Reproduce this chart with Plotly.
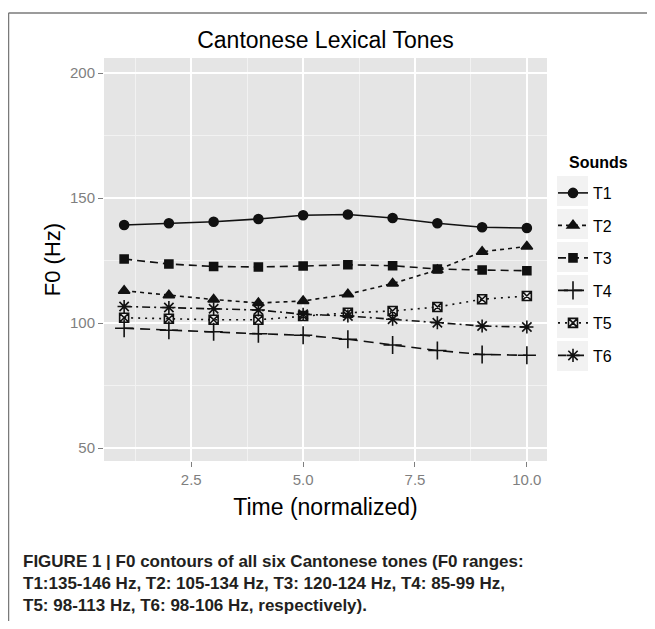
import plotly.graph_objects as go

time = [1, 2, 3, 4, 5, 6, 7, 8, 9, 10]
T1 = [139.2, 139.9, 140.5, 141.6, 143.1, 143.4, 142.0, 139.9, 138.3, 138.0]
T2 = [112.9, 111.1, 109.4, 108.0, 108.8, 111.5, 115.8, 121.2, 128.5, 130.6]
T3 = [125.6, 123.6, 122.6, 122.4, 122.8, 123.3, 122.9, 121.6, 121.2, 120.9]
T4 = [97.9, 97.1, 96.5, 95.7, 95.1, 93.5, 91.2, 89.0, 87.4, 87.1]
T5 = [102.1, 101.7, 101.3, 101.3, 102.8, 104.1, 104.8, 106.4, 109.5, 110.8]
T6 = [106.6, 106.2, 105.7, 105.2, 103.5, 102.8, 101.5, 100.1, 98.8, 98.4]
names = ["T1", "T2", "T3", "T4", "T5", "T6"]
series = [T1, T2, T3, T4, T5, T6]
x_ticks = [2.5, 5.0, 7.5, 10.0]
y_ticks = [50, 100, 150, 200]

styles = {
    "T1": dict(dash="solid", symbol="circle", size=9),
    "T2": dict(dash="4px,4px", symbol="triangle-up", size=10),
    "T3": dict(dash="8px,5px", symbol="square", size=8),
    "T4": dict(dash="10px,6px", symbol="cross-thin-open", size=13),
    "T5": dict(dash="2px,5px", symbol="square-x-open", size=9),
    "T6": dict(dash="8px,4px,2px,4px", symbol="asterisk-open", size=11),
}

fig = go.Figure()
for n, s in zip(names, series):
    st = styles[n]
    fig.add_trace(go.Scatter(
        x=time, y=s, name=n, mode="lines+markers", legendgroup=n,
        line=dict(color="#111111", width=1.6, dash=st["dash"]),
        marker=dict(symbol=st["symbol"], size=st["size"], color="#111111",
                    line=dict(color="#111111", width=1.6)),
    ))

# page body has an 8px margin; work in reference-pixel coordinates
OFF = 8
W, H = 655 - OFF, 629 - 2 * OFF
L, T = 104 - OFF, 58 - OFF
R = W - (547 - OFF)
B = H - (461 - OFF)
pw, ph = W - L - R, H - T - B

def px(x):
    return (x - OFF - L) / pw

def py(y):
    return (H - B - (y - OFF)) / ph

shapes = []
# figure frame
shapes.append(dict(type="line", xref="paper", yref="paper", x0=px(8.5), x1=px(660), y0=py(13), y1=py(13),
                   line=dict(color="#7a7a7a", width=1.5)))
shapes.append(dict(type="line", xref="paper", yref="paper", x0=px(8.5), x1=px(8.5), y0=py(13), y1=py(640),
                   line=dict(color="#7a7a7a", width=1.5)))
# legend key backgrounds
for i in range(6):
    cy = 191 + i * 33.0
    shapes.append(dict(type="rect", xref="paper", yref="paper", x0=px(557), x1=px(588),
                       y0=py(cy - 15), y1=py(cy + 15), fillcolor="#f2f2f2", line=dict(width=0), layer="below"))

caption = [
    "FIGURE 1 | F0 contours of all six Cantonese tones (F0 ranges:",
    "T1:135-146 Hz, T2: 105-134 Hz, T3: 120-124 Hz, T4: 85-99 Hz,",
    "T5: 98-113 Hz, T6: 98-106 Hz, respectively).",
]
annotations = []
for i, line in enumerate(caption):
    annotations.append(dict(text="<b>" + line + "</b>", xref="paper", yref="paper",
                            x=px(21), y=py(561 + i * 22), xanchor="left", yanchor="middle",
                            showarrow=False, font=dict(family="Liberation Sans", size=17, color="#231f20")))
annotations.append(dict(text="<b>Sounds</b>", xref="paper", yref="paper", x=px(567), y=py(162),
                        xanchor="left", yanchor="middle", showarrow=False,
                        font=dict(family="Liberation Sans", size=16, color="#000000")))

fig.update_layout(
    width=W, height=H,
    margin=dict(l=L, r=R, t=T, b=B, autoexpand=False),
    paper_bgcolor="white", plot_bgcolor="#e5e5e5",
    font=dict(family="Liberation Sans", color="#000000"),
    title=dict(text="Cantonese Lexical Tones", xref="paper", x=px(325.5), xanchor="center",
               yref="container", y=1 - (40 - OFF) / H, yanchor="middle",
               font=dict(size=23, color="#000000")),
    xaxis=dict(range=[0.55, 10.45], tickvals=x_ticks, tickformat=".1f", ticks="outside", ticklen=5,
               tickcolor="#7f7f7f", tickwidth=1.2, tickfont=dict(size=15, color="#7f7f7f"),
               gridcolor="white", gridwidth=1.6, zeroline=False, showline=False,
               minor=dict(dtick=1.25, tick0=0, gridcolor="#f2f2f2", gridwidth=0.8, showgrid=True),
               title=dict(text="Time (normalized)", font=dict(size=23, color="#000000"), standoff=11)),
    yaxis=dict(range=[44.8, 206.0], tickvals=y_ticks, ticks="outside", ticklen=5,
               tickcolor="#7f7f7f", tickwidth=1.2, tickfont=dict(size=15, color="#7f7f7f"),
               gridcolor="white", gridwidth=1.6, zeroline=False, showline=False,
               minor=dict(dtick=25, tick0=0, gridcolor="#f2f2f2", gridwidth=0.8, showgrid=True),
               title=dict(text="F0 (Hz)", font=dict(size=22, color="#000000"), standoff=3)),
    legend=dict(x=px(553), y=py(176), xanchor="left", yanchor="top",
                font=dict(size=16, color="#000000"), tracegroupgap=8.7, itemwidth=30,
                bgcolor="rgba(0,0,0,0)"),
    shapes=shapes,
    annotations=annotations,
)

fig.write_html("out.html")
